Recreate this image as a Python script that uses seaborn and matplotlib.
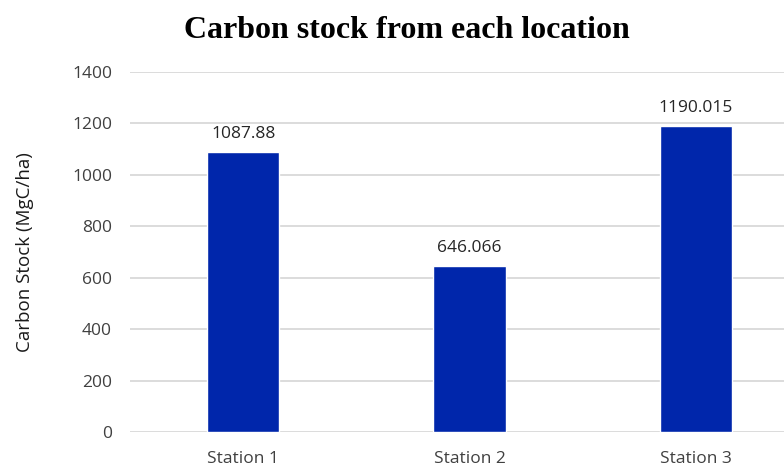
import numpy as np
import pandas as pd
import matplotlib
matplotlib.use('Agg')
import matplotlib.pyplot as plt
import seaborn as sns

# Chart data
stations = ['Station 1', 'Station 2', 'Station 3']
carbon_stock = [1087.88, 646.066, 1190.015]
value_labels = ['1087.88', '646.066', '1190.015']
y_ticks = [0, 200, 400, 600, 800, 1000, 1200, 1400]

BAR_COLOR = '#0026ab'
GRID_COLOR = '#d9d9d9'
DPI = 100

sns.set_style('white')
plt.rcParams['font.family'] = ['Open Sans', 'DejaVu Sans']

df = pd.DataFrame({'STATION': stations, 'STOCK': carbon_stock})

f = plt.figure(figsize=(784 / DPI, 467 / DPI), dpi=DPI)
ax = f.add_axes([130 / 784, 1 - 432 / 467, 679 / 784, 360 / 467])

sns.barplot(data=df, x='STATION', y='STOCK', color=BAR_COLOR, width=0.32,
            saturation=1, ax=ax, zorder=3)

for i, (v, s) in enumerate(zip(carbon_stock, value_labels)):
    ax.annotate(s, (i, v), xytext=(0, 10), textcoords='offset points',
                ha='center', va='baseline', fontsize=12.5, color='#262626')

ax.set_ylim(0, 1400)
ax.set_xlim(-0.5, 2.5)
ax.set_yticks(y_ticks)
ax.set_yticklabels([str(t) for t in y_ticks])
ax.grid(axis='y', color=GRID_COLOR, linewidth=1.3, zorder=0)
ax.tick_params(axis='both', length=0, labelsize=12.5, colors='#404040')
ax.tick_params(axis='y', pad=13)
ax.tick_params(axis='x', pad=14)
for side in ['top', 'right', 'left', 'bottom']:
    ax.spines[side].set_visible(False)
ax.set_xlabel('')
ax.set_ylabel('')
f.text(25 / 784, 1 - 252 / 467, 'Carbon Stock (MgC/ha)', rotation=90, ha='center', va='center',
       fontsize=13.5, color='#1a1a1a')

f.text(407 / 784, 1 - 38 / 467, 'Carbon stock from each location', ha='center', va='baseline',
       fontsize=23, fontweight='bold', family='Liberation Serif', color='black')

f.savefig('out.png', dpi=DPI)
plt.close(f)
